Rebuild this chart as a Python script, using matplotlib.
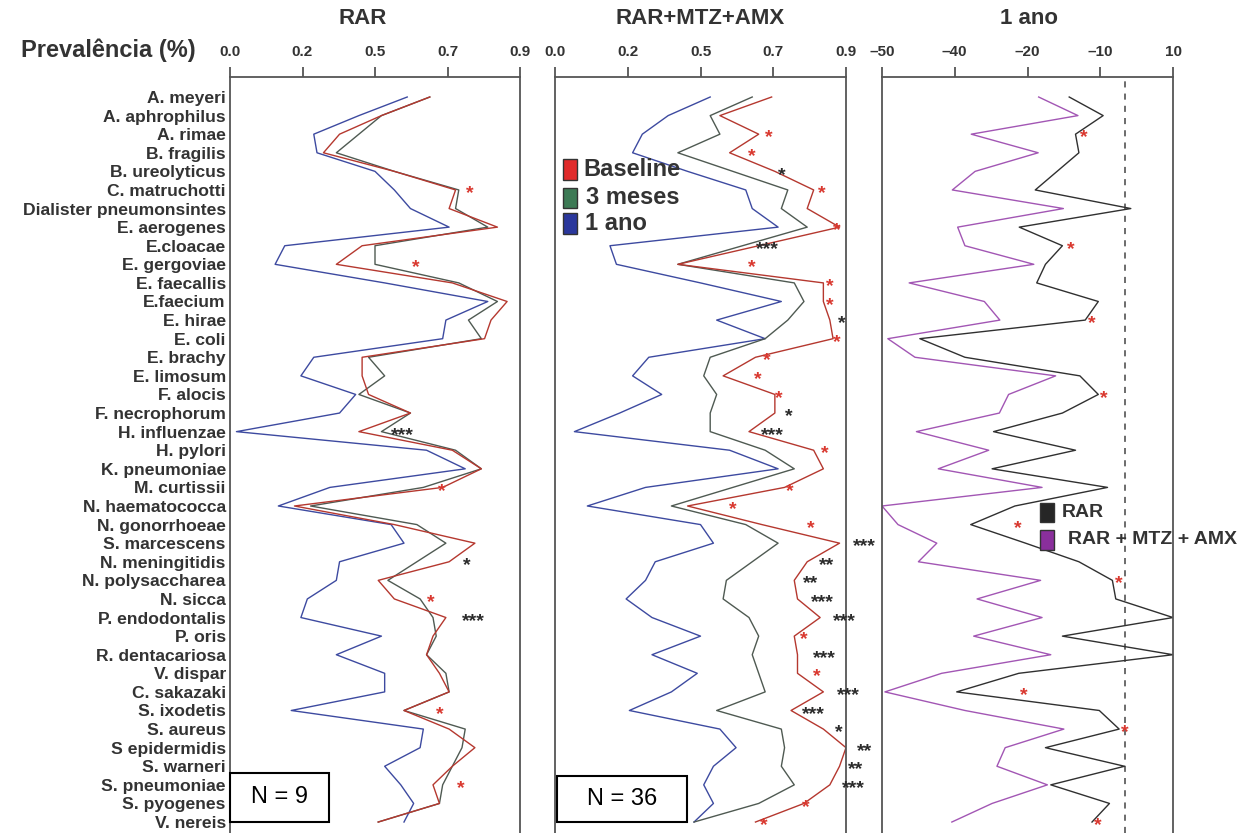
import numpy as np
import matplotlib.pyplot as plt
from matplotlib.patches import Rectangle

plt.rcParams['font.family'] = ['Liberation Sans', 'DejaVu Sans']

species = ["A. meyeri", "A. aphrophilus", "A. rimae", "B. fragilis", "B. ureolyticus",
           "C. matruchotti", "Dialister pneumonsintes", "E. aerogenes", "E.cloacae",
           "E. gergoviae", "E. faecallis", "E.faecium", "E. hirae", "E. coli", "E. brachy",
           "E. limosum", "F. alocis", "F. necrophorum", "H. influenzae", "H. pylori",
           "K. pneumoniae", "M. curtissii", "N. haematococca", "N. gonorrhoeae",
           "S. marcescens", "N. meningitidis", "N. polysaccharea", "N. sicca",
           "P. endodontalis", "P. oris", "R. dentacariosa", "V. dispar", "C. sakazaki",
           "S. ixodetis", "S. aureus", "S epidermidis", "S. warneri", "S. pneumoniae",
           "S. pyogenes", "V. nereis"]

# RAR (N = 9)
rar_baseline = [0.62, 0.47, 0.34, 0.29, 0.51, 0.70, 0.68, 0.83, 0.41, 0.33,
                0.69, 0.86, 0.81, 0.79, 0.41, 0.41, 0.43, 0.56, 0.40, 0.69,
                0.78, 0.66, 0.20, 0.51, 0.76, 0.68, 0.46, 0.51, 0.67, 0.63,
                0.61, 0.65, 0.68, 0.54, 0.68, 0.76, 0.69, 0.63, 0.65, 0.46]
rar_3m = [0.62, 0.47, 0.40, 0.33, 0.51, 0.71, 0.70, 0.80, 0.45, 0.45,
          0.71, 0.83, 0.74, 0.78, 0.43, 0.48, 0.40, 0.56, 0.47, 0.70,
          0.78, 0.60, 0.25, 0.58, 0.67, 0.58, 0.49, 0.59, 0.63, 0.64,
          0.61, 0.67, 0.68, 0.54, 0.73, 0.72, 0.69, 0.66, 0.65, 0.46]
rar_1a = [0.55, 0.40, 0.26, 0.27, 0.45, 0.51, 0.56, 0.68, 0.17, 0.14,
          0.48, 0.80, 0.67, 0.66, 0.26, 0.22, 0.39, 0.34, 0.02, 0.61,
          0.73, 0.31, 0.15, 0.50, 0.54, 0.34, 0.33, 0.24, 0.22, 0.47,
          0.33, 0.48, 0.48, 0.19, 0.60, 0.59, 0.48, 0.53, 0.57, 0.54]

# RAR+MTZ+AMX (N = 36)
mtz_baseline = [0.67, 0.51, 0.63, 0.54, 0.68, 0.80, 0.78, 0.88, 0.63, 0.38,
                0.83, 0.83, 0.85, 0.86, 0.62, 0.52, 0.68, 0.68, 0.60, 0.80,
                0.83, 0.71, 0.41, 0.64, 0.88, 0.78, 0.74, 0.75, 0.82, 0.74,
                0.75, 0.75, 0.83, 0.73, 0.83, 0.90, 0.88, 0.85, 0.77, 0.62]
mtz_3m = [0.61, 0.48, 0.51, 0.38, 0.55, 0.72, 0.70, 0.78, 0.58, 0.38,
          0.74, 0.77, 0.72, 0.65, 0.48, 0.46, 0.50, 0.48, 0.48, 0.65,
          0.74, 0.55, 0.36, 0.59, 0.69, 0.61, 0.53, 0.52, 0.60, 0.63,
          0.61, 0.63, 0.65, 0.50, 0.70, 0.71, 0.70, 0.74, 0.63, 0.43]
mtz_1a = [0.48, 0.35, 0.27, 0.24, 0.41, 0.59, 0.61, 0.69, 0.17, 0.19,
          0.45, 0.70, 0.50, 0.65, 0.29, 0.24, 0.33, 0.20, 0.06, 0.54,
          0.69, 0.28, 0.10, 0.45, 0.49, 0.31, 0.28, 0.22, 0.30, 0.45,
          0.30, 0.44, 0.36, 0.23, 0.51, 0.56, 0.49, 0.46, 0.49, 0.43]

# 1 ano: variação
var_rar = [-11.4, -4.4, -10.1, -9.4, -13.9, -18.4, 1.3, -21.7, -12.8, -16.3,
           -18.1, -5.4, -8.1, -42.2, -32.9, -9.2, -5.4, -12.8, -27.0, -10.1,
           -27.3, -3.5, -22.6, -31.7, -20.4, -9.4, -2.5, -1.8, 10.0, -12.8,
           10.0, -21.8, -34.6, -5.2, -1.1, -16.3, 0.0, -15.2, -3.1, -6.7]
var_mtz = [-17.7, -9.6, -31.6, -17.8, -30.8, -35.5, -12.6, -34.4, -32.9, -18.7,
           -44.4, -28.9, -25.7, -48.8, -43.2, -14.2, -23.9, -25.8, -42.9, -28.0,
           -38.4, -17.0, -50.0, -46.7, -38.7, -42.5, -17.3, -30.4, -17.0, -31.1,
           -15.2, -37.7, -49.4, -32.9, -12.5, -24.6, -26.3, -15.9, -27.3, -35.6]

# significance marks: (row, x, text, color)
RED, BLK = '#d9382f', '#2b2b2b'
sig_rar = [(5, 0.745, '*', RED), (9, 0.577, '*', RED), (18, 0.534, '***', BLK),
           (21, 0.658, '*', RED), (25, 0.736, '*', BLK), (27, 0.624, '*', RED),
           (28, 0.754, '***', BLK), (33, 0.652, '*', RED), (37, 0.717, '*', RED)]
sig_mtz = [(2, 0.662, '*', RED), (3, 0.609, '*', RED), (4, 0.702, '*', BLK),
           (5, 0.826, '*', RED), (7, 0.872, '*', RED), (8, 0.656, '***', BLK),
           (9, 0.609, '*', RED), (10, 0.851, '*', RED), (11, 0.851, '*', RED),
           (12, 0.888, '*', BLK), (13, 0.872, '*', RED), (14, 0.656, '*', RED),
           (15, 0.628, '*', RED), (16, 0.693, '*', RED), (17, 0.724, '*', BLK),
           (18, 0.671, '***', BLK), (19, 0.835, '*', RED), (21, 0.727, '*', RED),
           (22, 0.551, '*', RED), (23, 0.792, '*', RED), (24, 0.956, '***', BLK),
           (25, 0.841, '**', BLK), (26, 0.792, '**', BLK), (27, 0.826, '***', BLK),
           (28, 0.894, '***', BLK), (29, 0.770, '*', RED), (30, 0.832, '***', BLK),
           (31, 0.810, '*', RED), (32, 0.906, '***', BLK), (33, 0.798, '***', BLK),
           (34, 0.878, '*', BLK), (35, 0.959, '**', BLK), (36, 0.931, '**', BLK),
           (37, 0.922, '***', BLK), (38, 0.776, '*', RED), (39, 0.646, '*', RED)]
sig_var = [(2, -8.4, '*', RED), (8, -11.0, '*', RED), (12, -6.7, '*', RED),
           (16, -4.2, '*', RED), (23, -22.0, '*', RED), (26, -1.1, '*', RED),
           (32, -20.7, '*', RED), (34, 0.0, '*', RED), (39, -5.5, '*', RED)]

prev_ticks = [0, 0.225, 0.45, 0.675, 0.9]
prev_labels = ['0.0', '0.2', '0.5', '0.7', '0.9']
var_ticks = [-50, -35, -20, -5, 10]
var_labels = ['\u201350', '\u201340', '\u201320', '\u201310', '10']

C_BASE, C_3M, C_1A = '#b5382f', '#4f5a52', '#3d4aa0'
C_RAR, C_MTZ = '#303030', '#a256b4'
TXT = '#333333'

W, H = 1241, 833
fig = plt.figure(figsize=(W / 100, H / 100), dpi=100)

def make_ax(x0, x1):
    ax = fig.add_axes([x0 / W, 0, (x1 - x0) / W, (H - 77) / H])
    ax.set_ylim(39.59, -1.076)
    for s in ['left', 'right', 'top']:
        ax.spines[s].set_color('#555555')
        ax.spines[s].set_linewidth(1.3)
    ax.spines['bottom'].set_visible(False)
    ax.xaxis.tick_top()
    ax.tick_params(axis='x', length=7, width=1.3, color='#555555', pad=6,
                   labelsize=11, labelcolor=TXT)
    return ax

rows = np.arange(len(species))

ax1 = make_ax(230, 520)
ax2 = make_ax(555, 846)
ax3 = make_ax(882, 1173)

for ax in (ax1, ax2):
    ax.set_xlim(0, 0.9)
    ax.set_xticks(prev_ticks)
    ax.set_xticklabels(prev_labels, fontweight='bold')
ax3.set_xlim(-50, 10)
ax3.set_xticks(var_ticks)
ax3.set_xticklabels(var_labels, fontweight='bold')

ax1.set_yticks(rows)
ax1.set_yticklabels(species, fontsize=12.6, fontweight='bold', color=TXT)
ax1.tick_params(axis='y', length=0, pad=3)
ax2.set_yticks([])
ax3.set_yticks([])

lw = 1.0
for ax, b, m, a in ((ax1, rar_baseline, rar_3m, rar_1a), (ax2, mtz_baseline, mtz_3m, mtz_1a)):
    ax.plot(a, rows, color=C_1A, lw=lw)
    ax.plot(m, rows, color=C_3M, lw=lw)
    ax.plot(b, rows, color=C_BASE, lw=lw)

ax3.axvline(0, color='#444444', lw=1.1, ls=(0, (4, 4)))
ax3.plot(var_mtz, rows, color=C_MTZ, lw=lw)
ax3.plot(var_rar, rows, color=C_RAR, lw=lw)

for ax, marks in ((ax1, sig_rar), (ax2, sig_mtz), (ax3, sig_var)):
    for r, x, t, c in marks:
        ax.text(x, r + 0.2, t, color=c, fontsize=14, ha='center', va='center',
                fontweight='bold', clip_on=False)

# N boxes
for ax, x0, x1, y0, txt in ((ax1, 0.0, 0.307, 36.36, 'N = 9'), (ax2, 0.006, 0.408, 36.5, 'N = 36')):
    ax.add_patch(Rectangle((x0, y0), x1 - x0, 39.0 - y0, fill=True, fc='white',
                           ec='black', lw=1.5, zorder=5, clip_on=False))
    ax.text((x0 + x1) / 2, (y0 + 39.0) / 2, txt, fontsize=17, ha='center', va='center',
            color='black', zorder=6)

# legend panel 2
leg2 = [('Baseline', '#e02a2a', 159, 180, 583), ('3 meses', '#3d7a55', 188, 208, 586),
        ('1 ano', '#2a379c', 213, 234, 585)]
for txt, col, ya, yb, xt in leg2:
    fa = (H - yb) / (H - 77)
    fb = (H - ya) / (H - 77)
    ax2.add_patch(Rectangle(((563 - 555) / 291, fa), 14 / 291, fb - fa, transform=ax2.transAxes,
                            fc=col, ec='#333333', lw=1.0, zorder=5))
    ax2.text((xt - 555) / 291, (fa + fb) / 2, txt, transform=ax2.transAxes, fontsize=17,
             fontweight='bold', color=TXT, va='center', ha='left', zorder=6)

# legend panel 3
leg3 = [('RAR', '#262626', 503, 522, 1062), ('RAR + MTZ + AMX', '#8a2f9c', 530, 550, 1068)]
for txt, col, ya, yb, xt in leg3:
    fa = (H - yb) / (H - 77)
    fb = (H - ya) / (H - 77)
    ax3.add_patch(Rectangle(((1040 - 882) / 291, fa), 14 / 291, fb - fa, transform=ax3.transAxes,
                            fc=col, ec='#333333', lw=1.0, zorder=5))
    ax3.text((xt - 882) / 291, (fa + fb) / 2, txt, transform=ax3.transAxes, fontsize=14,
             fontweight='bold', color=TXT, va='center', ha='left', zorder=6, clip_on=False)

# titles
fig.text(363 / W, 1 - 18 / H, 'RAR', fontsize=16, fontweight='bold', color=TXT, ha='center', va='center')
fig.text(700 / W, 1 - 18 / H, 'RAR+MTZ+AMX', fontsize=16, fontweight='bold', color=TXT, ha='center', va='center')
fig.text(1029 / W, 1 - 18 / H, '1 ano', fontsize=16, fontweight='bold', color=TXT, ha='center', va='center')
fig.text(196 / W, 1 - 50 / H, 'Prevalência (%)', fontsize=17, fontweight='bold', color=TXT, ha='right', va='center')

fig.savefig('out.png', dpi=100)
